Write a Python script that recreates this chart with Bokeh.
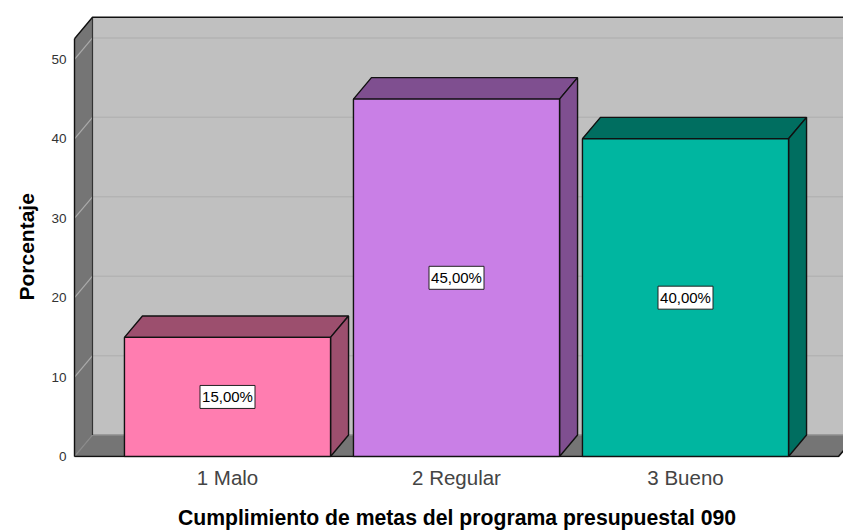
from bokeh.plotting import figure
from bokeh.models import FixedTicker, Range1d, Title
from bokeh.embed import file_html
from bokeh.resources import INLINE
from bokeh.core.properties import value

categories = ["1 Malo", "2 Regular", "3 Bueno"]
percentages = [15, 45, 40]
bar_labels = ["15,00%", "45,00%", "40,00%"]
front_colors = ["#FF7DB0", "#C97FE6", "#00B6A0"]
shade_colors = ["#9C4F6E", "#7F4F90", "#006E60"]
y_ticks = [0, 10, 20, 30, 40, 50]
x_positions = [1, 2, 3]

BAR_W = 0.9
DX = 18 / 229
DY = 2.7
WALL_TOP = 52.6
X_LEFT = 1 - 153 / 229
X_RIGHT = 3 + 153 / 229

p = figure(width=843, height=531, output_backend="svg", toolbar_location=None,
           x_range=Range1d(1 - 157 / 229, 3 + 158 / 229),
           y_range=Range1d(-0.125, 56.155),
           min_border_left=70, min_border_right=0, min_border_top=10, min_border_bottom=70,
           background_fill_color="white", border_fill_color="white", outline_line_color=None)
p.grid.visible = False

# walls and floor
p.patch([X_LEFT + DX, X_RIGHT + DX, X_RIGHT + DX, X_LEFT + DX], [DY, DY, WALL_TOP + DY, WALL_TOP + DY],
        fill_color="#C0C0C0", line_color=None)
p.patch([X_LEFT, X_LEFT + DX, X_LEFT + DX, X_LEFT], [0, DY, WALL_TOP + DY, WALL_TOP],
        fill_color="#757575", line_color=None)
p.patch([X_LEFT, X_RIGHT, X_RIGHT + DX, X_LEFT + DX], [0, 0, DY, DY], fill_color="#757575", line_color=None)

# gridlines
for t in y_ticks[1:]:
    p.line([X_LEFT + DX, X_RIGHT + DX], [t + DY, t + DY], line_color="#B3B3B3", line_width=1.5)
    p.line([X_LEFT, X_LEFT + DX], [t, t + DY], line_color="#ABABAB", line_width=1.2)
p.line([X_LEFT, X_LEFT + DX], [0, DY], line_color="#8A8A8A", line_width=1.2)
p.line([X_LEFT + DX, X_RIGHT + DX], [DY, DY], line_color="#8E8E8E", line_width=1.5)

# wall outline
p.line([X_LEFT, X_LEFT], [0, WALL_TOP], line_color="#111111", line_width=1.4)
p.line([X_LEFT + DX, X_LEFT + DX], [DY, WALL_TOP + DY], line_color="#333333", line_width=1.2)
p.line([X_LEFT, X_LEFT + DX, X_RIGHT + DX], [WALL_TOP, WALL_TOP + DY, WALL_TOP + DY], line_color="#111111", line_width=1.4)
p.line([X_LEFT, X_RIGHT, X_RIGHT + DX], [0, 0, DY], line_color="#111111", line_width=1.6)

# bars
for xc, v, fc, sc in zip(x_positions, percentages, front_colors, shade_colors):
    l, r = xc - BAR_W / 2, xc + BAR_W / 2
    p.patch([l, r, r + DX, l + DX], [v, v, v + DY, v + DY], fill_color=sc, line_color="#111111", line_width=1.4)
    p.patch([r, r + DX, r + DX, r], [0, DY, v + DY, v], fill_color=sc, line_color="#111111", line_width=1.4)
    p.patch([l, r, r, l], [0, 0, v, v], fill_color=fc, line_color="#111111", line_width=1.4)

# value labels
mid = [v / 2 for v in percentages]
p.rect(x_positions, mid, width=55, height=23, width_units="screen", height_units="screen",
       fill_color="white", line_color="#222222", line_width=1)
p.text(x_positions, mid, text=bar_labels, text_align="center", text_baseline="middle",
       text_font=value("Liberation Sans"), text_font_size="15px", text_color="black")

# axes
p.yaxis.ticker = FixedTicker(ticks=y_ticks)
p.xaxis.ticker = FixedTicker(ticks=x_positions)
p.xaxis.major_label_overrides = dict(zip(x_positions, categories))
for ax in (p.xaxis[0], p.yaxis[0]):
    ax.axis_line_color = None
    ax.major_tick_line_color = None
    ax.minor_tick_line_color = None
    ax.major_tick_in = 0
    ax.major_tick_out = 0
    ax.major_label_text_font = "Liberation Sans"
p.yaxis.major_label_text_font_size = "13.5px"
p.yaxis.major_label_text_color = "#333333"
p.yaxis.major_label_standoff = 4
p.xaxis.major_label_text_font_size = "20.5px"
p.xaxis.major_label_text_color = "#444444"
p.xaxis.major_label_standoff = 8
p.xaxis.axis_label = "Cumplimiento de metas del programa presupuestal 090"
p.xaxis.axis_label_text_font = "Liberation Sans"
p.xaxis.axis_label_text_font_style = "bold"
p.xaxis.axis_label_text_font_size = "21.2px"
p.xaxis.axis_label_text_color = "black"
p.xaxis.axis_label_standoff = 14
p.xaxis.axis_label_text_baseline = "middle"

ytitle = Title(text="Porcentaje", align="left", offset=157, standoff=22,
               text_font="Liberation Sans", text_font_style="bold",
               text_font_size="21px", text_color="black")
p.add_layout(ytitle, "left")

open("out.html", "w").write(file_html(p, INLINE))
